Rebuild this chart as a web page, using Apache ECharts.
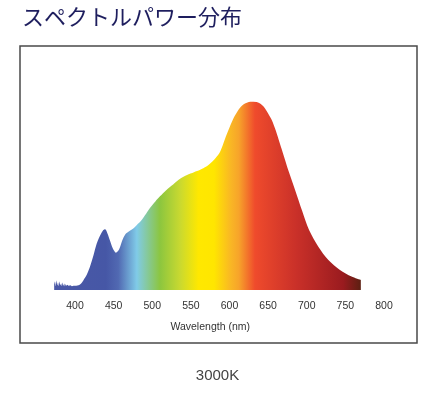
<!DOCTYPE html>
<html>
<head>
<meta charset="utf-8">
<script src="https://cdn.jsdelivr.net/npm/echarts@6/dist/echarts.min.js"></script>
<style>
html,body{margin:0;padding:0;background:#fff;}
#c{width:435px;height:396px;}
</style>
</head>
<body>
<div id="c"></div>
<script>
// Wavelength (nm) and relative spectral power (peak = 1)
var wavelengths = [373,374,375,376,377,378,379,380,381,382,383,384,385,386,387,388,389,390,392,394,396,398,400,403,406,409,412,415,419,424,428,432,436,439,442,445,449,453,457,461,465,470,475,480,486,492,498,504,510,518,527,536,545,554,562,570,576,582,588,594,600,605,611,616,620,625,629,633,637,642,646,650,655,660,665,670,676,685,694,703,715,728,743,758,770];
var power = [0.03,0.045,0.02,0.05,0.025,0.04,0.02,0.045,0.025,0.035,0.02,0.04,0.022,0.035,0.02,0.03,0.022,0.028,0.022,0.025,0.02,0.022,0.022,0.024,0.028,0.04,0.06,0.08,0.12,0.186,0.245,0.285,0.315,0.322,0.3,0.265,0.22,0.198,0.215,0.262,0.295,0.312,0.325,0.345,0.37,0.405,0.44,0.47,0.497,0.53,0.56,0.59,0.61,0.625,0.638,0.655,0.675,0.7,0.735,0.8,0.862,0.91,0.953,0.978,0.99,0.998,1.0,0.999,0.995,0.982,0.964,0.937,0.9,0.845,0.78,0.715,0.637,0.53,0.42,0.318,0.23,0.159,0.106,0.071,0.053];
var tickValues = [400,450,500,550,600,650,700,750,800];
var stopWavelengths = [373,440,456,480,510,536,560,580,602,612,633,687,747,770];
var stopColors = ['#4a58a6','#4657a6','#5169b2','#80cbe8','#8cc63f','#c9d930','#ffe800','#ffe600','#f9b625','#f7a42a','#ef4b2c','#c93029','#9a1b1f','#5c1f12'];
var titleText = 'スペクトルパワー分布';
var xAxisName = 'Wavelength (nm)';
var subText = '3000K';

var wMin = wavelengths[0], wMax = wavelengths[wavelengths.length - 1];
var stops = stopWavelengths.map(function (w, i) {
  return { offset: (w - wMin) / (wMax - wMin), color: stopColors[i] };
});
var seriesData = wavelengths.map(function (w, i) { return [w, power[i]]; });

var chart = echarts.init(document.getElementById('c'), null, { renderer: 'canvas' });
chart.setOption({
  animation: false,
  backgroundColor: '#fff',
  graphic: [
    { type: 'rect', shape: { x: 20, y: 46, width: 397, height: 297 },
      style: { fill: 'none', stroke: '#4a4a4a', lineWidth: 1.5 }, z: 0 },
    { type: 'text', left: 22, top: 6,
      style: { text: titleText, fill: '#1e1e5e', font: 'normal 22px "Noto Sans CJK JP"' } },
    { type: 'text', left: 'center', top: 368,
      style: { text: subText, fill: '#444', font: '15px "Liberation Sans", Arial, sans-serif' } }
  ],
  grid: { left: 36.4, right: 51, top: 101.6, bottom: 106, containLabel: false },
  xAxis: {
    type: 'value', min: 350, max: 800, interval: 50,
    name: xAxisName, nameLocation: 'middle', nameGap: 32,
    nameTextStyle: { color: '#333', fontSize: 10.5, fontFamily: 'Liberation Sans' },
    axisLine: { show: false }, axisTick: { show: false }, splitLine: { show: false },
    axisLabel: { color: '#333', fontSize: 10.5, fontFamily: 'Liberation Sans', margin: 11,
      formatter: function (v) { return tickValues.indexOf(v) >= 0 ? String(v) : ''; } }
  },
  yAxis: { type: 'value', min: 0, max: 1, show: false },
  series: [{
    type: 'line', data: seriesData, smooth: 0.3, showSymbol: false,
    lineStyle: { width: 0 },
    areaStyle: { opacity: 1, color: new echarts.graphic.LinearGradient(0, 0, 1, 0, stops) }
  }]
});
</script>
</body>
</html>
